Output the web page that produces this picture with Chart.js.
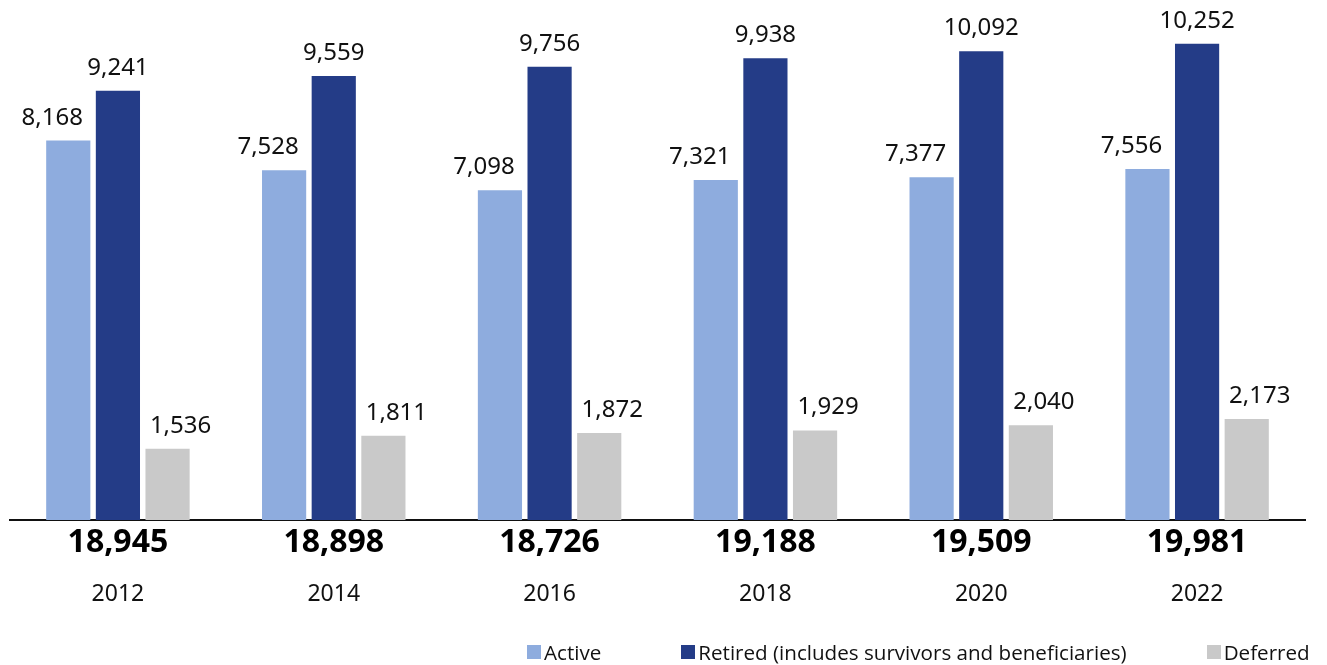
<!DOCTYPE html>
<html>
<head>
<meta charset="utf-8">
<script src="https://cdn.jsdelivr.net/npm/chart.js@4"></script>
<style>
  html, body { margin: 0; padding: 0; background: #fff; }
  #wrap { position: relative; width: 1327px; height: 665px; }
  #legend {
    position: absolute; left: 527px; top: 638px;
    display: flex; align-items: center;
    font: 20.6px "Open Sans", sans-serif; color: #111;
  }
  #legend .item { display: flex; align-items: center; margin-right: 80px; white-space: nowrap; }
  #legend .box { width: 14px; height: 14px; margin-right: 3px; }
</style>
</head>
<body>
<div id="wrap">
  <canvas id="membersChart"></canvas>
  <div id="legend"></div>
</div>
<script>
// Membership by year
const years = ['2012', '2014', '2016', '2018', '2020', '2022'];
const active = [8168, 7528, 7098, 7321, 7377, 7556];
const retired = [9241, 9559, 9756, 9938, 10092, 10252];
const deferred = [1536, 1811, 1872, 1929, 2040, 2173];

const seriesNames = ['Active', 'Retired (includes survivors and beneficiaries)', 'Deferred'];
const seriesColors = ['#8eacde', '#243c87', '#c9c9c9'];
// outer labels get nudged sideways so they don't collide
const labelShift = [-16, 0, 13];

const fmt = v => v.toLocaleString('en-US');
const totals = years.map((y, i) => active[i] + retired[i] + deferred[i]);

// value labels above each bar
const barLabels = {
    id: 'barLabels',
    afterDatasetsDraw(chart) {
        const ctx = chart.ctx;
        ctx.save();
        ctx.font = '24px "Noto Sans"';
        ctx.fillStyle = '#111';
        ctx.textAlign = 'center';
        ctx.textBaseline = 'alphabetic';
        chart.data.datasets.forEach((ds, di) => {
            chart.getDatasetMeta(di).data.forEach((bar, i) => {
                ctx.fillText(fmt(ds.data[i]), bar.x + labelShift[di], bar.y - 16);
            });
        });
        ctx.restore();
    }
};

const ctx = document.getElementById('membersChart').getContext('2d');
const chart = new Chart(ctx, {
    type: 'bar',
    data: {
        labels: years,
        datasets: [active, retired, deferred].map((d, i) => ({
            label: seriesNames[i],
            data: d,
            backgroundColor: seriesColors[i],
            categoryPercentage: 0.69,
            barPercentage: 0.89
        }))
    },
    options: {
        responsive: true,
        maintainAspectRatio: false,
        animation: false,
        layout: { padding: { top: 9, left: 10, right: 22, bottom: 43 } },
        plugins: {
            legend: { display: false },
            tooltip: { enabled: false }
        },
        scales: {
            y: {
                display: false,
                min: 0,
                max: 11000
            },
            x: {
                weight: 1,
                grid: { display: false, drawTicks: false },
                border: { display: true, color: '#111', width: 2 },
                ticks: {
                    padding: 4,
                    color: '#000',
                    font: { family: '"Noto Sans"', size: 32, weight: 'bold' },
                    callback: (v, i) => fmt(totals[i])
                }
            },
            x2: {
                type: 'category',
                labels: years,
                position: 'bottom',
                offset: true,
                weight: 2,
                grid: { display: false, drawTicks: false },
                border: { display: false },
                ticks: {
                    padding: 14,
                    color: '#111',
                    font: { family: '"Noto Sans"', size: 23 }
                }
            }
        }
    },
    plugins: [barLabels]
});

// legend row under the chart
const legendEl = document.getElementById('legend');
chart.data.datasets.forEach(ds => {
    const item = document.createElement('span');
    item.className = 'item';
    const box = document.createElement('span');
    box.className = 'box';
    box.style.background = ds.backgroundColor;
    item.appendChild(box);
    item.appendChild(document.createTextNode(ds.label));
    legendEl.appendChild(item);
});
</script>
</body>
</html>
